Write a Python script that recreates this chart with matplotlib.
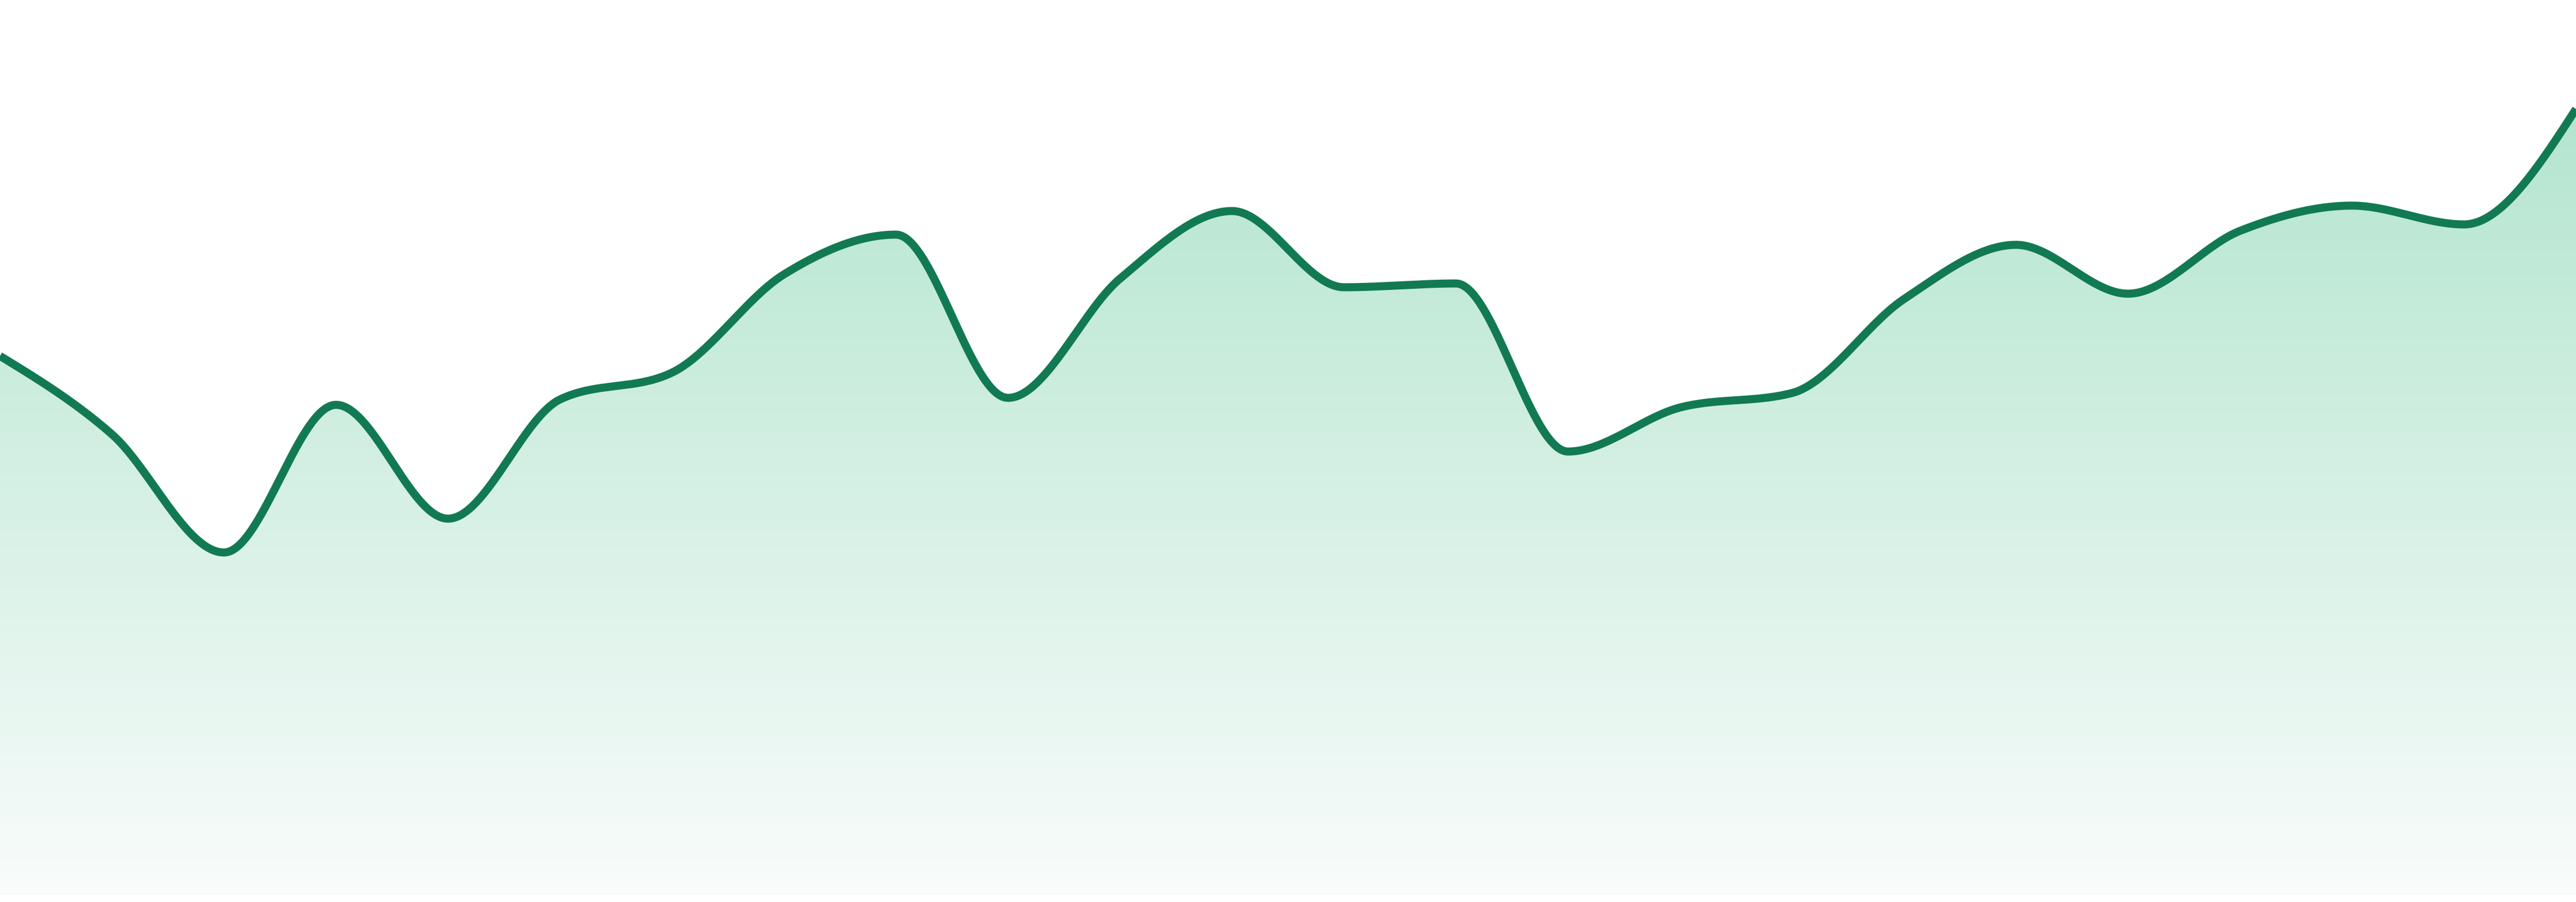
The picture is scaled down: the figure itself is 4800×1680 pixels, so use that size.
import numpy as np
import matplotlib
matplotlib.use("Agg")
import matplotlib.pyplot as plt
from matplotlib.colors import LinearSegmentedColormap

# values, one per evenly spaced step
steps = list(range(24))
values = [100.4, 85.8, 63.8, 91.3, 70.1, 92.3, 97.3, 115.6, 123.0, 92.6, 114.8, 127.4,
          113.2, 113.9, 82.6, 90.8, 93.5, 111.0, 121.1, 112.0, 123.7, 128.4, 124.9, 146.4]

LINE_COLOR = "#127a53"
FILL_TOP = "#aae2c9"
FILL_BOTTOM = "#f9fcfb"


def monotone_x(x, y, per_seg=60):
    # same curve as d3.curveMonotoneX (Fritsch-Carlson style tangents)
    x = np.asarray(x, float)
    y = np.asarray(y, float)
    h = np.diff(x)
    s = np.diff(y) / h
    t = np.zeros_like(y)
    for i in range(1, len(y) - 1):
        h0, h1 = h[i - 1], h[i]
        s0, s1 = s[i - 1], s[i]
        p = (s0 * h1 + s1 * h0) / (h0 + h1)
        t[i] = (np.sign(s0) + np.sign(s1)) * min(abs(s0), abs(s1), 0.5 * abs(p))
    t[0] = (3 * s[0] - t[1]) / 2
    t[-1] = (3 * s[-1] - t[-2]) / 2
    xs, ys = [], []
    for i in range(len(h)):
        u = np.linspace(0, 1, per_seg, endpoint=(i == len(h) - 1))
        h00 = 2 * u**3 - 3 * u**2 + 1
        h10 = u**3 - 2 * u**2 + u
        h01 = -2 * u**3 + 3 * u**2
        h11 = u**3 - u**2
        xs.append(x[i] + u * h[i])
        ys.append(h00 * y[i] + h10 * h[i] * t[i] + h01 * y[i + 1] + h11 * h[i] * t[i + 1])
    return np.concatenate(xs), np.concatenate(ys)


xs, ys = monotone_x(steps, values)

fig = plt.figure(figsize=(48, 16.8), dpi=100)
ax = fig.add_axes([0, 0, 1, 1])
ax.set_xlim(steps[0], steps[-1])
ax.set_ylim(-1.3, 166.7)
ax.axis("off")

# gradient fill under the curve
area = ax.fill_between(xs, ys, 0, color="none", lw=0)
cmap = LinearSegmentedColormap.from_list("fade", [FILL_BOTTOM, FILL_TOP])
grad = np.linspace(0, 1, 512).reshape(-1, 1)
img = ax.imshow(grad, cmap=cmap, aspect="auto", origin="lower",
                extent=[steps[0], steps[-1], 0, 166.7], zorder=1)
img.set_clip_path(area.get_paths()[0], transform=ax.transData)

ax.plot(xs, ys, color=LINE_COLOR, lw=10.8, solid_capstyle="butt",
        solid_joinstyle="round", zorder=3)

fig.savefig("out.png", dpi=100, facecolor="white")
